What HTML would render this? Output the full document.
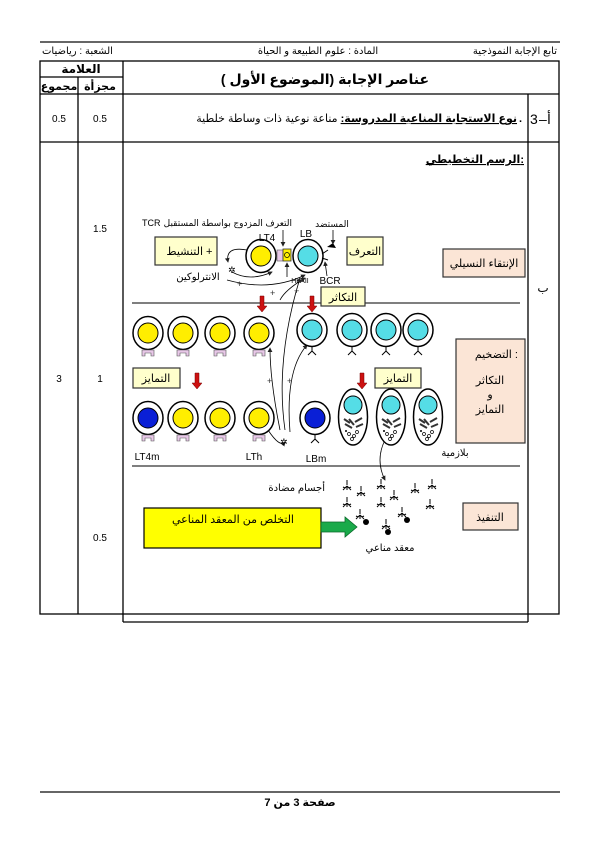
<!DOCTYPE html>
<html><head><meta charset="utf-8"><style>
html,body{margin:0;padding:0;background:#fff;width:600px;height:850px;overflow:hidden}
svg{display:block}
text{font-family:"Liberation Sans","DejaVu Sans",sans-serif}
</style></head><body>
<svg width="600" height="850" viewBox="0 0 600 850" xmlns="http://www.w3.org/2000/svg">
<defs>
<marker id="ah" markerWidth="6" markerHeight="6" refX="5" refY="3" orient="auto"><path d="M0,0 L6,3 L0,6 z" fill="#222"/></marker>
<g id="tr"><path d="M-6,0 h12 v6 h-3 v-3 h-6 v3 h-3 z" fill="#e8c8e8" stroke="#555" stroke-width="0.6"/></g>
<g id="br"><path d="M0,0 v4 M0,4 l-4,4 M0,4 l4,4" stroke="#000" stroke-width="1" fill="none"/></g>
<g id="ty"><ellipse rx="15" ry="16.5" fill="#fff" stroke="#000" stroke-width="1.5"/><circle r="10" fill="#ffee00" stroke="#000" stroke-width="1"/></g>
<g id="tb"><ellipse rx="15" ry="16.5" fill="#fff" stroke="#000" stroke-width="1.5"/><circle r="10" fill="#0a1fd6" stroke="#000" stroke-width="1"/></g>
<g id="bc"><ellipse rx="15" ry="16.5" fill="#fff" stroke="#000" stroke-width="1.5"/><circle r="10" fill="#55dde6" stroke="#000" stroke-width="1"/></g>
<g id="pl"><ellipse rx="14.5" ry="28" fill="#fff" stroke="#000" stroke-width="1.5"/><circle cy="-12" r="9" fill="#55dde6" stroke="#000" stroke-width="1"/>
<path d="M-9,2 l6,4 M-8,7 l7,4 M2,5 l7,-4 M3,10 l7,-3 M-4,2 l5,6" stroke="#333" stroke-width="2"/>
<circle cx="-4" cy="17" r="1.5" fill="none" stroke="#000" stroke-width="0.7"/><circle cx="1" cy="19" r="1.5" fill="none" stroke="#000" stroke-width="0.7"/><circle cx="4" cy="15" r="1.5" fill="none" stroke="#000" stroke-width="0.7"/><circle cx="-1" cy="22" r="1.5" fill="none" stroke="#000" stroke-width="0.7"/><circle cx="-7" cy="14" r="1" fill="#000"/></g>
<g id="ab"><path d="M0,5 v-4 M0,1 l-4,4 M0,1 l4,4 M-2,3 l-2,-1 M2,3 l2,-1" stroke="#000" stroke-width="1" fill="none"/><path d="M0,-5 v5" stroke="#000" stroke-width="1"/></g>
</defs>

<!-- header -->
<line x1="40" y1="42" x2="560" y2="42" stroke="#333" stroke-width="1.5"/>
<text x="557" y="54" font-size="10" text-anchor="end" font-family="Liberation Serif,serif">تابع الإجابة النموذجية</text>
<text x="318" y="54" font-size="10" text-anchor="middle" font-family="Liberation Serif,serif">المادة : علوم الطبيعة و الحياة</text>
<text x="42" y="54" font-size="10" text-anchor="start" font-family="Liberation Serif,serif">الشعبة : رياضيات</text>

<!-- table -->
<g stroke="#000" stroke-width="1.3" fill="none">
<rect x="40" y="61" width="519" height="553"/>
<line x1="40" y1="94" x2="559" y2="94"/>
<line x1="40" y1="77" x2="123" y2="77"/>
<line x1="40" y1="142" x2="559" y2="142"/>
<line x1="78" y1="77" x2="78" y2="614"/>
<line x1="123" y1="61" x2="123" y2="622"/>
<line x1="528" y1="94" x2="528" y2="622"/>
<line x1="123" y1="622" x2="528" y2="622"/>
</g>
<text x="81" y="73" font-size="12" text-anchor="middle" font-weight="bold">العلامة</text>
<text x="100" y="90" font-size="11" text-anchor="middle" font-weight="bold">مجزأة</text>
<text x="59" y="90" font-size="11" text-anchor="middle" font-weight="bold">مجموع</text>
<text x="325" y="84" font-size="14" text-anchor="middle" font-weight="bold">عناصر الإجابة (الموضوع الأول )</text>
<text x="59" y="122" font-size="10" text-anchor="middle">0.5</text>
<text x="100" y="122" font-size="10" text-anchor="middle">0.5</text>
<text x="530" y="124" font-size="14">3</text>
<text x="539" y="124" font-size="14">–</text>
<text x="547" y="124" font-size="14">أ</text>
<text x="522" y="122" font-size="11" text-anchor="end" font-weight="bold">.</text>
<text x="517" y="122" font-size="11" text-anchor="end"><tspan font-weight="bold" text-decoration="underline">نوع الاستجابة المناعية المدروسة:</tspan> مناعة نوعية ذات وساطة خلطية</text>
<text x="524" y="163" font-size="11" text-anchor="end" font-weight="bold" text-decoration="underline">الرسم التخطيطي:</text>
<text x="100" y="232" font-size="10" text-anchor="middle">1.5</text>
<text x="59" y="382" font-size="10" text-anchor="middle">3</text>
<text x="100" y="382" font-size="10" text-anchor="middle">1</text>
<text x="100" y="541" font-size="10" text-anchor="middle">0.5</text>
<text x="543" y="292" font-size="12" text-anchor="middle">ب</text>

<!-- separators in diagram -->
<line x1="132" y1="303" x2="520" y2="303" stroke="#555" stroke-width="1.5"/>
<line x1="132" y1="466" x2="520" y2="466" stroke="#555" stroke-width="1.5"/>

<!-- boxes -->
<g stroke="#333" stroke-width="1.2">
<rect x="155" y="237" width="62" height="28" fill="#ffffcc"/>
<rect x="347" y="237" width="36" height="28" fill="#ffffcc"/>
<rect x="443" y="249" width="82" height="28" fill="#fbe5d6"/>
<rect x="321" y="287" width="44" height="19" fill="#ffffcc"/>
<rect x="133" y="368" width="47" height="20" fill="#ffffcc"/>
<rect x="375" y="368" width="46" height="20" fill="#ffffcc"/>
<rect x="456" y="339" width="69" height="104" fill="#fbe5d6"/>
<rect x="463" y="503" width="55" height="27" fill="#fbe5d6"/>
<rect x="144" y="508" width="177" height="40" fill="#ffff00" stroke="#000"/>
</g>
<text x="203" y="255" font-size="11" text-anchor="end">التنشيط</text>
<text x="206" y="255" font-size="11">+</text>
<text x="365" y="255" font-size="11" text-anchor="middle">التعرف</text>
<text x="484" y="267" font-size="11" text-anchor="middle">الإنتقاء النسيلي</text>
<text x="343" y="301" font-size="11" text-anchor="middle">التكاثر</text>
<text x="156" y="382" font-size="11" text-anchor="middle">التمايز</text>
<text x="398" y="382" font-size="11" text-anchor="middle">التمايز</text>
<text x="518" y="358" font-size="11" text-anchor="end">التضخيم :</text>
<text x="490" y="384" font-size="11" text-anchor="middle">التكاثر</text>
<text x="490" y="398" font-size="11" text-anchor="middle">و</text>
<text x="490" y="413" font-size="11" text-anchor="middle">التمايز</text>
<text x="490" y="521" font-size="11" text-anchor="middle">التنفيذ</text>
<text x="233" y="523" font-size="11" text-anchor="middle">التخلص من المعقد المناعي</text>
<path d="M321,522 h24 v-5 l12,10 l-12,10 v-5 h-24 z" fill="#1aaa4a" stroke="#0a6a2a" stroke-width="0.8"/>

<!-- red arrows -->
<g fill="#cc1111" stroke="#700" stroke-width="0.5">
<path d="M260,296 h4 v10 h3 l-5,6 l-5,-6 h3 z"/>
<path d="M310,296 h4 v10 h3 l-5,6 l-5,-6 h3 z"/>
<path d="M195,373 h4 v10 h3 l-5,6 l-5,-6 h3 z"/>
<path d="M360,373 h4 v10 h3 l-5,6 l-5,-6 h3 z"/>
</g>

<!-- top row cells -->
<use href="#ty" x="261" y="256"/>
<use href="#bc" x="308" y="256"/>
<rect x="277" y="250" width="6" height="11" fill="#e8c8e8" stroke="#555" stroke-width="0.6"/>
<rect x="283" y="249" width="8" height="12" fill="#ffee00" stroke="#333" stroke-width="0.8"/>
<circle cx="287" cy="255" r="2.5" fill="none" stroke="#000" stroke-width="0.7"/>
<path d="M322,254 l6,-4 M322,258 l6,2" stroke="#000" stroke-width="1"/>
<path d="M327,247 l6,-4 l3,5 z" fill="#000"/>
<text x="267" y="241" font-size="10" text-anchor="middle">LT4</text>
<text x="306" y="237" font-size="10" text-anchor="middle">LB</text>
<text x="142" y="226" font-size="9">TCR</text>
<text x="292" y="226" font-size="9" text-anchor="end">التعرف المزدوج بواسطة المستقبل</text>
<text x="332" y="227" font-size="9" text-anchor="middle">المستضد</text>
<text x="300" y="283" font-size="7" text-anchor="middle">HLAII</text>
<text x="330" y="284" font-size="10" text-anchor="middle">BCR</text>
<text x="198" y="280" font-size="10" text-anchor="middle">الانترلوكين</text>
<g stroke="#000" stroke-width="0.8" fill="none" marker-end="url(#ah)">
<line x1="283" y1="230" x2="283" y2="246"/>
<line x1="333" y1="230" x2="333" y2="244"/>
<line x1="287" y1="277" x2="287" y2="263"/>
<line x1="327" y1="276" x2="325" y2="262"/>
<path d="M247,250 Q225,246 228,262"/>
<path d="M232,272 Q250,282 272,272"/>
<path d="M227,280 Q270,292 305,275"/>
<path d="M280,300 Q285,290 305,278"/>
<path d="M285,430 Q275,360 300,278"/>
<path d="M280,430 Q270,380 270,348"/>
<path d="M290,432 Q285,370 307,345"/>
<path d="M268,430 Q280,448 285,442"/>
<path d="M385,440 Q375,460 385,480"/>
</g>
<text x="228" y="273" font-size="9">✲</text>
<text x="280" y="445" font-size="9">✲</text>
<g font-size="9" fill="#333"><text x="237" y="287">+</text><text x="270" y="296">+</text><text x="294" y="294">+</text><text x="267" y="384">+</text><text x="287" y="384">+</text></g>

<!-- row 2 -->
<use href="#ty" x="148" y="333"/><use href="#tr" x="148" y="350"/>
<use href="#ty" x="183" y="333"/><use href="#tr" x="183" y="350"/>
<use href="#ty" x="220" y="333"/><use href="#tr" x="220" y="350"/>
<use href="#ty" x="259" y="333"/><use href="#tr" x="259" y="350"/>
<use href="#bc" x="312" y="330"/><use href="#br" x="312" y="347"/>
<use href="#bc" x="352" y="330"/><use href="#br" x="352" y="347"/>
<use href="#bc" x="386" y="330"/><use href="#br" x="386" y="347"/>
<use href="#bc" x="418" y="330"/><use href="#br" x="418" y="347"/>

<!-- row 3 -->
<use href="#tb" x="148" y="418"/><use href="#tr" x="148" y="435"/>
<use href="#ty" x="183" y="418"/><use href="#tr" x="183" y="435"/>
<use href="#ty" x="220" y="418"/><use href="#tr" x="220" y="435"/>
<use href="#ty" x="259" y="418"/><use href="#tr" x="259" y="435"/>
<use href="#tb" x="315" y="418"/><use href="#br" x="315" y="435"/>
<use href="#pl" x="353" y="417"/>
<use href="#pl" x="391" y="417"/>
<use href="#pl" x="428" y="417"/>
<text x="147" y="460" font-size="10" text-anchor="middle">LT4m</text>
<text x="254" y="460" font-size="10" text-anchor="middle">LTh</text>
<text x="316" y="462" font-size="10" text-anchor="middle">LBm</text>
<text x="455" y="456" font-size="10" text-anchor="middle">بلازمية</text>

<!-- antibodies -->
<use href="#ab" x="347" y="485"/><use href="#ab" x="361" y="491"/><use href="#ab" x="381" y="484"/>
<use href="#ab" x="394" y="495"/><use href="#ab" x="415" y="488"/><use href="#ab" x="432" y="484"/>
<use href="#ab" x="347" y="502"/><use href="#ab" x="381" y="502"/><use href="#ab" x="430" y="504"/>
<use href="#ab" x="360" y="514"/><use href="#ab" x="402" y="512"/><use href="#ab" x="386" y="524"/>
<circle cx="366" cy="522" r="3" fill="#000"/><circle cx="407" cy="520" r="3" fill="#000"/><circle cx="388" cy="532" r="3" fill="#000"/>
<text x="325" y="491" font-size="10" text-anchor="end">أجسام مضادة</text>
<text x="390" y="551" font-size="10" text-anchor="middle">معقد مناعي</text>

<!-- footer -->
<line x1="40" y1="792" x2="560" y2="792" stroke="#333" stroke-width="1.5"/>
<text x="300" y="806" font-size="11" text-anchor="middle" font-weight="bold">صفحة 3 من 7</text>
</svg>
</body></html>
